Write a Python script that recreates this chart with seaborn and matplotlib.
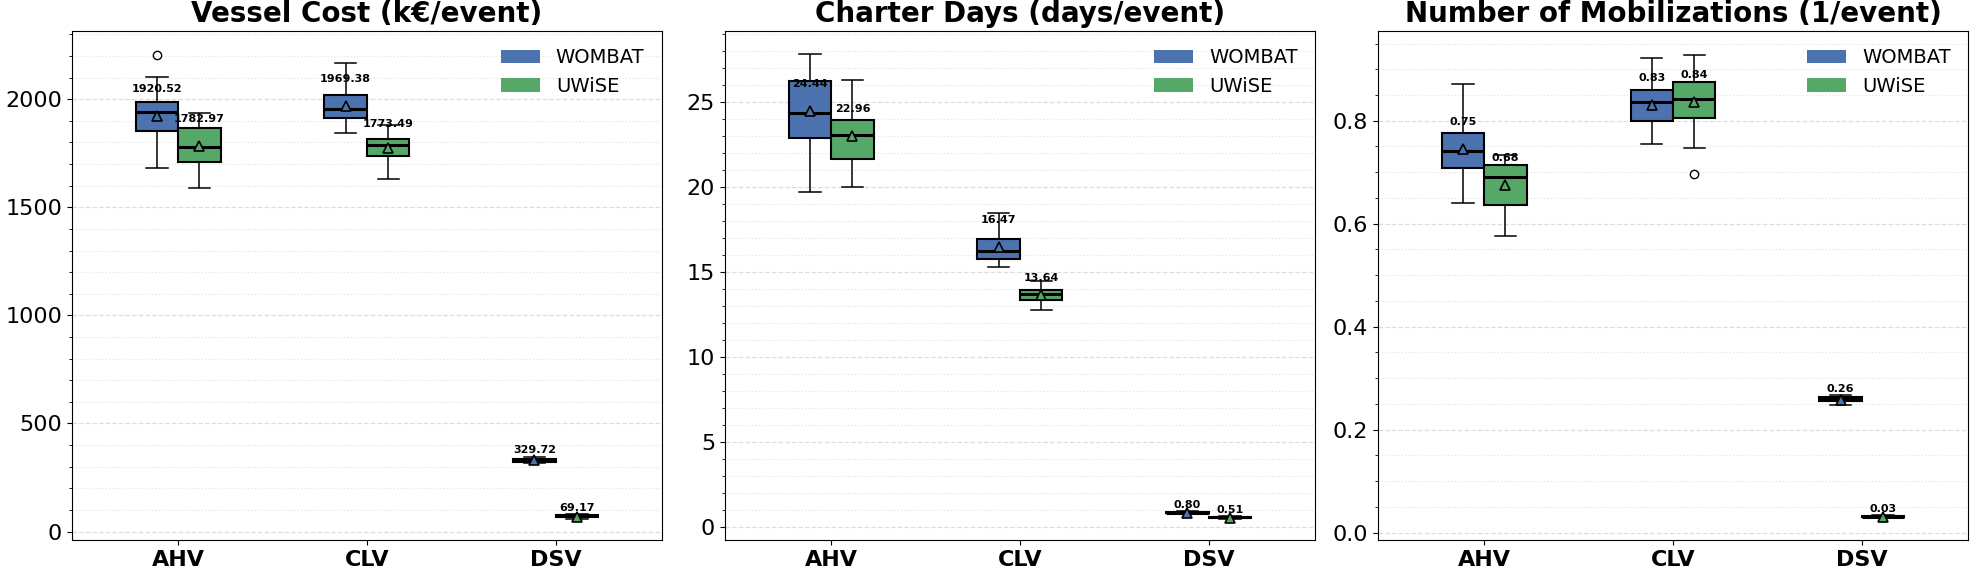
import pandas as pd
import matplotlib
matplotlib.use("Agg")
import matplotlib.pyplot as plt
from matplotlib.patches import Patch
import seaborn as sns

vessels = ["AHV", "CLV", "DSV"]
models = ["WOMBAT", "UWiSE"]
palette = {"WOMBAT": "#4C72B0", "UWiSE": "#55A868"}

# box summaries: low whisker, Q1, median, Q3, high whisker
cost_wombat = [[1682, 1852, 1939, 1988, 2104], [1843, 1913, 1953, 2020, 2169], [318, 323, 329, 337, 346]]
cost_uwise = [[1587, 1708, 1780, 1866, 1936], [1629, 1736, 1789, 1815, 1882], [58, 66, 71, 75, 82]]
cost_outliers = {("AHV", "WOMBAT"): [2206]}
cost_mean_wombat = [1920.52, 1969.38, 329.72]
cost_mean_uwise = [1782.97, 1773.49, 69.17]

days_wombat = [[19.71, 22.88, 24.31, 26.24, 27.82], [15.27, 15.75, 16.24, 16.92, 18.45], [0.74, 0.79, 0.84, 0.88, 0.92]]
days_uwise = [[20.0, 21.61, 23.04, 23.94, 26.29], [12.76, 13.35, 13.67, 13.94, 14.49], [0.45, 0.53, 0.57, 0.60, 0.63]]
days_outliers = {}
days_mean_wombat = [24.44, 16.47, 0.80]
days_mean_uwise = [22.96, 13.64, 0.51]

mob_wombat = [[0.640, 0.708, 0.742, 0.777, 0.872], [0.7545, 0.799, 0.8366, 0.8605, 0.9226], [0.2486, 0.2556, 0.259, 0.2626, 0.268]]
mob_uwise = [[0.576, 0.636, 0.690, 0.715, 0.733], [0.748, 0.8062, 0.8424, 0.8753, 0.9284], [0.028, 0.030, 0.031, 0.032, 0.034]]
mob_outliers = {("CLV", "UWiSE"): [0.6957]}
mob_mean_wombat = [0.746, 0.8307, 0.258]
mob_mean_uwise = [0.676, 0.836, 0.031]

titles = ["Vessel Cost (k€/event)", "Charter Days (days/event)", "Number of Mobilizations (1/event)"]
ylims = [(-39, 2317), (-0.77, 29.18), (-0.0145, 0.975)]


def box_table(wombat, uwise, outliers):
    # turn each five-number summary into observations that give the same box
    rows = []
    for model, summaries in zip(models, [wombat, uwise]):
        for vessel, (lo, q1, med, q3, hi) in zip(vessels, summaries):
            obs = [lo, q1, q1, med, med, q3, q3, hi] + outliers.get((vessel, model), [])
            for v in obs:
                rows.append({"vessel": vessel, "model": model, "value": v})
    return pd.DataFrame(rows)


def mean_table(wombat, uwise, box_w, box_u):
    rows = []
    for model, means, boxes in zip(models, [wombat, uwise], [box_w, box_u]):
        for vessel, m, b in zip(vessels, means, boxes):
            rows.append({"vessel": vessel, "model": model, "mean": m, "q1": b[1], "q3": b[3]})
    return pd.DataFrame(rows)


panels = [
    (box_table(cost_wombat, cost_uwise, cost_outliers),
     mean_table(cost_mean_wombat, cost_mean_uwise, cost_wombat, cost_uwise)),
    (box_table(days_wombat, days_uwise, days_outliers),
     mean_table(days_mean_wombat, days_mean_uwise, days_wombat, days_uwise)),
    (box_table(mob_wombat, mob_uwise, mob_outliers),
     mean_table(mob_mean_wombat, mob_mean_uwise, mob_wombat, mob_uwise)),
]

fig, axes = plt.subplots(1, 3, figsize=(19.7, 5.66), dpi=100)
fig.subplots_adjust(left=0.0365, right=0.999, top=0.9458, bottom=0.0459, wspace=0.1068)

offsets = {"WOMBAT": -0.1125, "UWiSE": 0.1125}

for ax, (bdf, mdf), title, ylim in zip(axes, panels, titles, ylims):
    sns.boxplot(data=bdf, x="vessel", y="value", hue="model", order=vessels, hue_order=models,
                palette=palette, width=0.45, gap=0, saturation=1, linecolor="black", linewidth=1.5,
                fliersize=6, flierprops=dict(marker="o", markerfacecolor="none", markeredgecolor="black"),
                medianprops=dict(linewidth=2.2), whiskerprops=dict(linewidth=1.1),
                capprops=dict(linewidth=1.1), legend=False, ax=ax)
    n_lines = len(ax.lines)
    sns.pointplot(data=mdf, x="vessel", y="mean", hue="model", order=vessels, hue_order=models,
                  palette=palette, dodge=0.225, linestyle="none", markers="^", markersize=7,
                  errorbar=None, legend=False, ax=ax)
    for line in ax.lines[n_lines:]:
        line.set_markeredgecolor("black")
        line.set_markeredgewidth(1.2)
        line.set_zorder(5)

    ax.set_xlim(-0.563, 2.563)
    ax.set_ylim(*ylim)

    # mean labels sit above the marker, closer for the flat boxes
    for _, r in mdf.iterrows():
        x = vessels.index(r["vessel"]) + offsets[r["model"]]
        py = ax.transData.transform([(0, r["q1"]), (0, r["q3"])])[:, 1]
        lift = min(27, 7 + abs(py[1] - py[0])) * 72 / fig.dpi
        ax.annotate(f"{r['mean']:.2f}", (x, r["mean"]), xytext=(0, lift), textcoords="offset points",
                    ha="center", va="center", fontsize=8, fontweight="bold", zorder=6)

    ax.set_title(title, fontsize=20, fontweight="bold")
    ax.set_xlabel("")
    ax.set_ylabel("")
    ax.minorticks_on()
    ax.xaxis.set_minor_locator(matplotlib.ticker.NullLocator())
    ax.set_axisbelow(True)
    ax.grid(which="major", axis="y", linestyle="--", color="#dddddd", linewidth=0.9)
    ax.grid(which="minor", axis="y", linestyle=":", color="#e4e4e4", linewidth=0.9)
    ax.tick_params(axis="y", labelsize=16)
    ax.tick_params(axis="x", labelsize=16)
    for lbl in ax.get_xticklabels():
        lbl.set_fontweight("bold")

    handles = [Patch(facecolor=palette[m], label=m) for m in models]
    ax.legend(handles=handles, loc="upper right", frameon=False, fontsize=14)

fig.savefig("out.png", dpi=100)
